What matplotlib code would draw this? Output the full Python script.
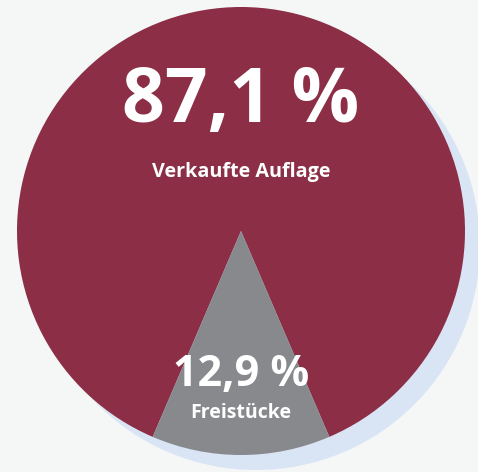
import matplotlib
matplotlib.use("Agg")
import matplotlib.pyplot as plt
from matplotlib.patches import Circle

labels = ["Verkaufte Auflage", "Freistücke"]
values = [87.1, 12.9]
value_labels = ["87,1 %", "12,9 %"]
colors = ["#8b2e46", "#88898d"]

W, H = 478, 472
fig = plt.figure(figsize=(W / 100, H / 100), dpi=100)
fig.patch.set_facecolor("#f5f7f7")
ax = fig.add_axes([0, 0, 1, 1])
ax.set_facecolor("#f5f7f7")

cx, cy, R = 241, H - 231, 224
# shadow
ax.add_patch(Circle((cx + 15, cy - 15), R, facecolor="#d9e4f4", edgecolor="none", zorder=0))

start = 270 + 180 * values[1] / sum(values)
ax.pie(values, colors=colors, center=(cx, cy), radius=R, startangle=start,
       counterclock=True, wedgeprops=dict(linewidth=0), frame=True)

font = "Open Sans"
ax.text(cx, H - 103, value_labels[0], ha="center", va="center", color="white",
        fontsize=54, fontweight="bold", family=font, zorder=5)
ax.text(cx, H - 172, labels[0], ha="center", va="center", color="white",
        fontsize=14.2, fontweight="bold", family=font, zorder=5)
ax.text(cx, H - 374, value_labels[1], ha="center", va="center", color="white",
        fontsize=31, fontweight="bold", family=font, zorder=5)
ax.text(cx, H - 413, labels[1], ha="center", va="center", color="white",
        fontsize=14, fontweight="bold", family=font, zorder=5)

ax.set_xlim(0, W)
ax.set_ylim(0, H)
ax.set_aspect("equal")
ax.axis("off")
fig.savefig("out.png", dpi=100, facecolor=fig.get_facecolor())
